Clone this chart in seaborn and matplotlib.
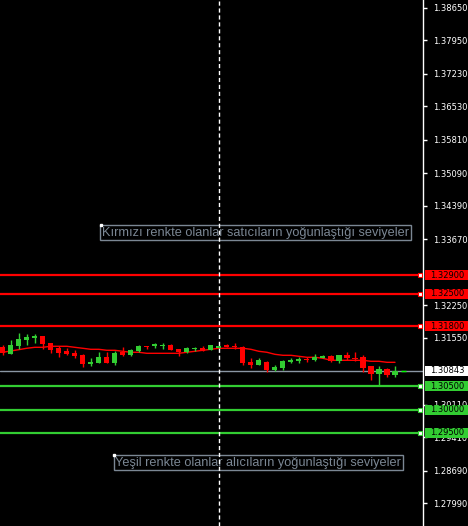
import numpy as np
import pandas as pd
import matplotlib
matplotlib.use("Agg")
import matplotlib.pyplot as plt
import matplotlib.transforms as mtrans
from matplotlib.patches import Rectangle
import seaborn as sns

# ------------------------
# Data
# ------------------------
opens = [1.31350, 1.31205, 1.31378, 1.31507, 1.31550, 1.31587, 1.31436, 1.31322, 1.31257, 1.31227,
         1.31177, 1.30990, 1.31012, 1.31134, 1.31012, 1.31236, 1.31177, 1.31264, 1.31371, 1.31365,
         1.31371, 1.31399, 1.31307, 1.31236, 1.31300, 1.31335, 1.31292, 1.31335, 1.31386, 1.31378,
         1.31350, 1.31033, 1.30962, 1.31033, 1.30848, 1.30897, 1.31020, 1.31048, 1.31098, 1.31076,
         1.31119, 1.31163, 1.31048, 1.31177, 1.31106, 1.31134, 1.30940, 1.30768, 1.30876, 1.30746]
highs = [1.31386, 1.31500, 1.31651, 1.31630, 1.31630, 1.31587, 1.31436, 1.31371, 1.31328, 1.31292,
         1.31199, 1.31113, 1.31242, 1.31242, 1.31270, 1.31343, 1.31307, 1.31399, 1.31371, 1.31442,
         1.31442, 1.31421, 1.31307, 1.31356, 1.31356, 1.31371, 1.31393, 1.31371, 1.31408, 1.31436,
         1.31365, 1.31113, 1.31106, 1.31055, 1.30962, 1.31070, 1.31113, 1.31134, 1.31134, 1.31199,
         1.31177, 1.31177, 1.31171, 1.31242, 1.31242, 1.31177, 1.30947, 1.30934, 1.30897, 1.30934]
lows = [1.31171, 1.31205, 1.31313, 1.31399, 1.31436, 1.31313, 1.31220, 1.31141, 1.31171, 1.31113,
        1.30919, 1.30947, 1.31012, 1.31012, 1.30968, 1.31156, 1.31156, 1.31236, 1.31307, 1.31328,
        1.31307, 1.31292, 1.31150, 1.31214, 1.31257, 1.31257, 1.31292, 1.31335, 1.31350, 1.31307,
        1.30962, 1.30891, 1.30962, 1.30817, 1.30840, 1.30861, 1.31005, 1.31005, 1.31033, 1.31048,
        1.31119, 1.31033, 1.31005, 1.31070, 1.31042, 1.30817, 1.30639, 1.30525, 1.30704, 1.30710]
closes = [1.31220, 1.31393, 1.31522, 1.31571, 1.31593, 1.31421, 1.31292, 1.31214, 1.31205, 1.31156,
          1.30990, 1.31033, 1.31134, 1.31012, 1.31220, 1.31184, 1.31285, 1.31371, 1.31343, 1.31408,
          1.31393, 1.31292, 1.31248, 1.31322, 1.31335, 1.31270, 1.31393, 1.31371, 1.31356, 1.31350,
          1.31005, 1.30962, 1.31063, 1.30848, 1.30925, 1.31048, 1.31076, 1.31098, 1.31076, 1.31141,
          1.31156, 1.31055, 1.31171, 1.31106, 1.31085, 1.30897, 1.30768, 1.30876, 1.30753, 1.30843]
ma = [1.31236, 1.31264, 1.31292, 1.31322, 1.31343, 1.31343, 1.31365, 1.31365, 1.31365, 1.31343,
      1.31322, 1.31300, 1.31300, 1.31279, 1.31279, 1.31257, 1.31236, 1.31236, 1.31214, 1.31214,
      1.31214, 1.31214, 1.31214, 1.31236, 1.31257, 1.31279, 1.31300, 1.31322, 1.31322, 1.31322,
      1.31322, 1.31300, 1.31257, 1.31236, 1.31192, 1.31171, 1.31171, 1.31149, 1.31128, 1.31128,
      1.31106, 1.31063, 1.31063, 1.31063, 1.31063, 1.31063, 1.31042, 1.31042, 1.31020, 1.31020]

sell_levels = [1.32900, 1.32500, 1.31800]
buy_levels = [1.30500, 1.30000, 1.29500]
last_price = 1.30843
tick_values = [1.38650, 1.37950, 1.37230, 1.36530, 1.35810, 1.35090, 1.34390, 1.33670,
               1.32250, 1.31550, 1.30110, 1.29410, 1.28690, 1.27990]
cursor_bar = 27
sell_note = "Kırmızı renkte olanlar satıcıların yoğunlaştığı seviyeler"
buy_note = "Yeşil renkte olanlar alıcıların yoğunlaştığı seviyeler"

RED = '#ff0000'
GREEN = '#32cd32'
NOTE = '#7b8794'
PX = 0.00021535  # price per pixel

df = pd.DataFrame({'bar': np.arange(len(opens)), 'open': opens, 'high': highs,
                   'low': lows, 'close': closes, 'ma': ma})
df['up'] = df['close'] >= df['open']

# ------------------------
# Figure
# ------------------------
sns.set_style("dark", {'axes.facecolor': 'black', 'figure.facecolor': 'black'})
plt.rcParams['font.family'] = ['DejaVu Sans']

fig = plt.figure(figsize=(4.68, 5.26), dpi=100, facecolor='black')
ax = fig.add_axes([0, 0, 423 / 468, 1])
ax.set_facecolor('black')

# moving average
sns.lineplot(data=df, x='bar', y='ma', color=RED, lw=1, ax=ax, zorder=2)

# candles
colors = np.where(df['up'], GREEN, RED)
ax.vlines(df['bar'], df['low'], df['high'], colors=colors, lw=1, zorder=3)
body = np.maximum((df['close'] - df['open']).abs(), PX)
ax.bar(df['bar'], body, bottom=np.minimum(df['open'], df['close']), width=0.64,
       color=colors, linewidth=0, zorder=3)

trans = mtrans.blended_transform_factory(ax.transAxes, ax.transData)

# horizontal levels with price tags
for lvl, col in [(v, RED) for v in sell_levels] + [(v, GREEN) for v in buy_levels]:
    ax.axhline(lvl, color=col, lw=1.6, zorder=4)
    ax.plot([0.993], [lvl], transform=trans, marker='s', ms=3, mfc='white', mec=col,
            mew=0.8, clip_on=False, zorder=5)
    ax.add_patch(Rectangle((425 / 423, lvl - 5 * PX), 43 / 423, 10 * PX, transform=trans,
                           facecolor=col, edgecolor='none', clip_on=False, zorder=6))
    ax.text(430 / 423, lvl, f"{lvl:.5f}", transform=trans, color='black', fontsize=6,
            va='center', ha='left', clip_on=False, zorder=7)

# last price line
ax.axhline(last_price, color='#8a96a3', lw=1, zorder=2.5)
ax.hlines(last_price, 49.7, 50.35, color='#00ff00', lw=1, zorder=4)
ax.add_patch(Rectangle((425 / 423, last_price - 5 * PX), 43 / 423, 10 * PX, transform=trans,
                       facecolor='white', edgecolor='none', clip_on=False, zorder=6))
ax.text(430 / 423, last_price, f"{last_price:.5f}", transform=trans, color='black', fontsize=6,
        va='center', ha='left', clip_on=False, zorder=7)

# cursor line
ax.axvline(cursor_bar, color='white', lw=1, ls=(0, (3, 2)), zorder=4.5)

# notes
for xb, yp, txt in [(12.4, 1.33940, sell_note), (14.05, 1.28990, buy_note)]:
    ax.text(xb, yp, txt, color=NOTE, fontsize=9.2, family='Liberation Sans', va='top', ha='left',
            bbox=dict(facecolor='none', edgecolor=NOTE, lw=1, pad=1.2), zorder=4)
    ax.plot([xb - 0.1], [yp + 0.0003], marker='s', ms=1.5, color='white', zorder=5)

# axes
ax.set_xlim(-0.34, 52.5)
ax.set_ylim(1.27495, 1.38822)
ax.set_xticks([])
ax.set_xlabel('')
ax.set_ylabel('')
ax.yaxis.tick_right()
ax.set_yticks(tick_values)
ax.set_yticklabels([f"{v:.5f}" for v in tick_values])
ax.tick_params(axis='y', colors='white', length=3, width=1, pad=4, labelsize=6)
ax.yaxis.set_zorder(1)
ax.grid(False)
for side in ['top', 'left', 'bottom']:
    ax.spines[side].set_visible(False)
ax.spines['right'].set_color('white')
ax.spines['right'].set_linewidth(1)

fig.savefig('out.png', dpi=100, facecolor='black')
